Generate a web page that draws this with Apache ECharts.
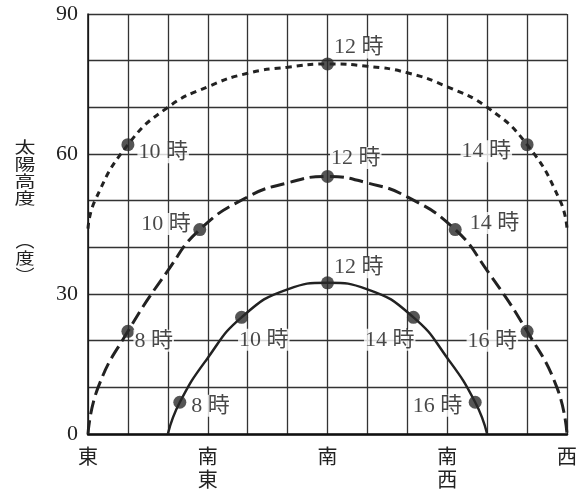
<!DOCTYPE html>
<html>
<head>
<meta charset="utf-8">
<script src="https://cdn.jsdelivr.net/npm/echarts@6/dist/echarts.min.js"></script>
<style>
html,body{margin:0;padding:0;background:#fff;}
#c{width:585px;height:495px;}
</style>
</head>
<body>
<div id="c"></div>
<script>
// x: azimuth measured from east (0 = 東, 90 = 南, 180 = 西); y: solar altitude (deg)
const xTickLabels = {0:'東', 45:'南\n東', 90:'南', 135:'南\n西', 180:'西'};
const yTickLabels = [0, 30, 60, 90];
const yAxisTitle = '太\n陽\n高\n度';
const yAxisUnit = '︵\n度\n︶';

// curves
const summerCurve = [[0,44],[2.6,50],[15,62],[30,70],[45,74.4],[60,77.3],[75,78.6],[90,79.3],[105,78.8],[120,77.4],[135,74.4],[150,70],[165,62],[177.4,50],[180,44]];
const equinoxCurve = [[0,0],[3.8,10],[15,22],[30,35],[42,43.8],[60,50.8],[75,53.8],[90,55.2],[105,53.8],[120,50.8],[138,43.8],[150,35],[165,22],[176.2,10],[180,0]];
const winterCurve = [[30,0],[34.5,6.8],[45,16.3],[57.7,25],[75,31],[90,32.4],[105,31],[122.3,25],[135,16.3],[145.5,6.8],[150,0]];

// hour markers
const summerHours = ['10 時','12 時','14 時'];
const summerPoints = [[15,62],[90,79.3],[165,62]];
const equinoxHours = ['8 時','10 時','12 時','14 時','16 時'];
const equinoxPoints = [[15,22],[42,43.8],[90,55.2],[138,43.8],[165,22]];
const winterHours = ['8 時','10 時','12 時','14 時','16 時'];
const winterPoints = [[34.5,6.8],[57.7,25],[90,32.4],[122.3,25],[145.5,6.8]];

// label offsets (styling), relative to marker box top-left
const summerLabelOffsets = [[16,3],[12,-21],[-60,2]];
const equinoxLabelOffsets = [[12,5],[-53,-10],[9,-23],[20,-11],[-54,5]];
const winterLabelOffsets = [[17,-1],[3,18],[12,-20],[-43,18],[-57,-1]];

const FONT = '"Liberation Serif","Noto Sans CJK JP",serif';
const CJK = '"Noto Sans CJK JP", sans-serif';

function markerSeries(points, names, offsets){
  return {
    type:'scatter',
    symbol:'circle',
    symbolSize:13,
    itemStyle:{color:'#2a2a2a'},
    z:5,
    data: points.map((p,i)=>({
      value:p,
      label:{
        show:true,
        formatter:names[i],
        position:offsets[i],
        fontFamily:FONT,
        fontSize:22,
        color:'#1a1a1a',
        backgroundColor:'#fff',
        padding:[0,1,0,1]
      }
    }))
  };
}

const chart = echarts.init(document.getElementById('c'));
chart.setOption({
  animation:false,
  backgroundColor:'#fff',
  grid:{left:88, right:18, top:14, bottom:61, show:false},
  graphic:[
    {type:'text', x:25, y:138, scaleY:0.75, style:{text:yAxisTitle, font:'21px '+CJK, fill:'#222', lineHeight:23, align:'center', verticalAlign:'top'}},
    {type:'text', x:25, y:232, scaleY:0.82, style:{text:yAxisUnit, font:'19px '+CJK, fill:'#222', lineHeight:21, align:'center', verticalAlign:'top'}}
  ],
  xAxis:{
    type:'value', min:0, max:180, interval:15,
    axisLine:{show:true, lineStyle:{color:'#111', width:2.5}},
    axisTick:{show:false},
    splitLine:{show:true, lineStyle:{color:'#333', width:1.3}},
    axisLabel:{
      formatter:v=>xTickLabels[v]!==undefined?xTickLabels[v]:'',
      fontFamily:FONT, fontSize:20, color:'#222', lineHeight:23, margin:13,
      verticalAlign:'top'
    }
  },
  yAxis:{
    type:'value', min:0, max:90, interval:10,
    axisLine:{show:true, lineStyle:{color:'#111', width:1.5}},
    axisTick:{show:false},
    splitLine:{show:true, lineStyle:{color:'#333', width:1.3}},
    axisLabel:{
      formatter:v=>yTickLabels.indexOf(v)>=0?String(v):'',
      fontFamily:FONT, fontSize:22, color:'#222', margin:10
    }
  },
  series:[
    {type:'line', data:summerCurve, smooth:0.5, symbol:'none', z:3,
     lineStyle:{color:'#222', width:3, type:[6,5]}},
    {type:'line', data:equinoxCurve, smooth:0.5, symbol:'none', z:3,
     lineStyle:{color:'#222', width:3, type:[14,6]}},
    {type:'line', data:winterCurve, smooth:0.5, symbol:'none', z:3,
     lineStyle:{color:'#222', width:2.5}},
    markerSeries(summerPoints, summerHours, summerLabelOffsets),
    markerSeries(equinoxPoints, equinoxHours, equinoxLabelOffsets),
    markerSeries(winterPoints, winterHours, winterLabelOffsets)
  ]
});
</script>
</body>
</html>
